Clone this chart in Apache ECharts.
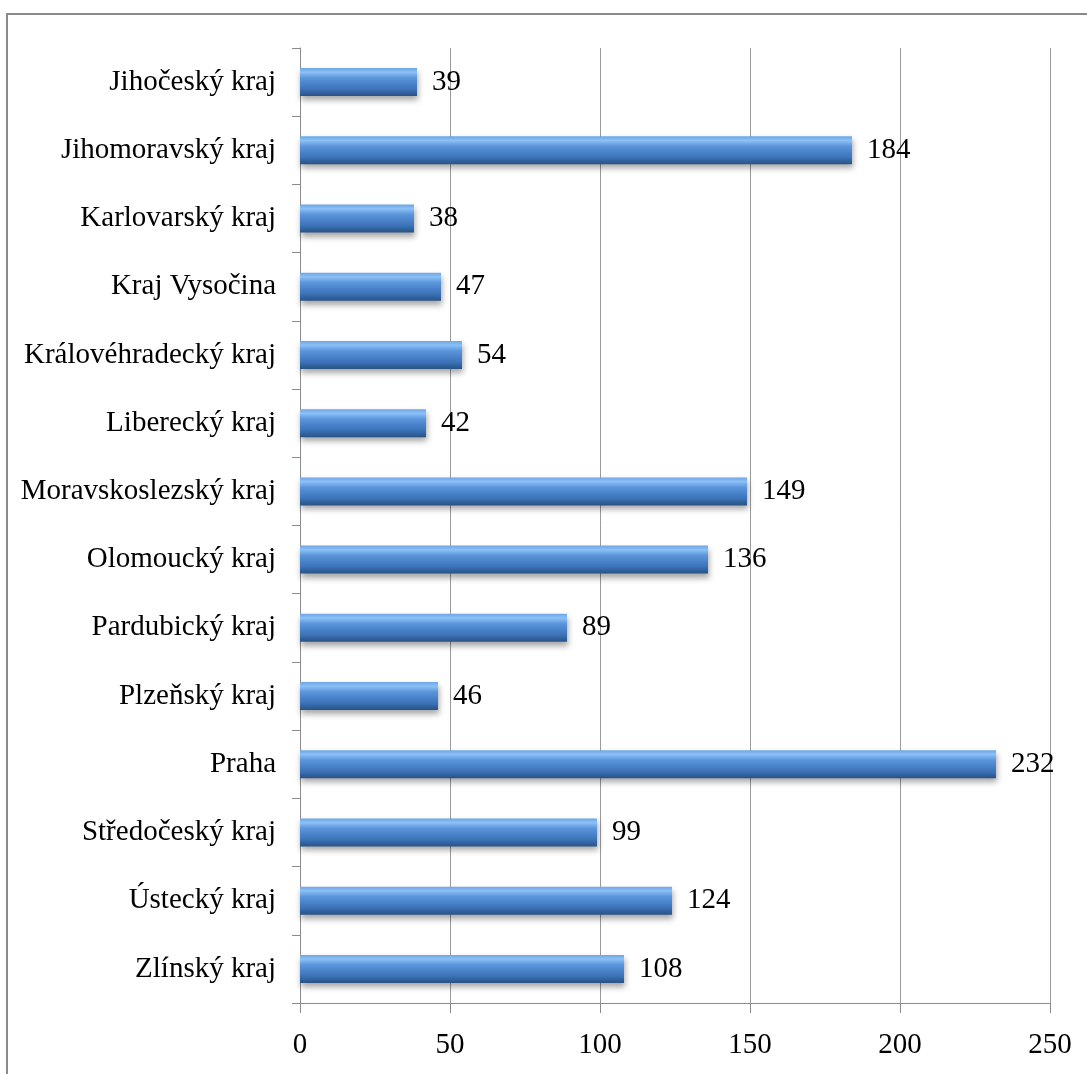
<!DOCTYPE html>
<html><head><meta charset="utf-8">
<script src="https://cdn.jsdelivr.net/npm/echarts@6/dist/echarts.min.js"></script>
<style>html,body{margin:0;padding:0;background:#fff}#c{width:1087px;height:1074px}</style>
</head><body><div id="c"></div>
<script>
const categories = ["Jihočeský kraj","Jihomoravský kraj","Karlovarský kraj","Kraj Vysočina","Královéhradecký kraj","Liberecký kraj","Moravskoslezský kraj","Olomoucký kraj","Pardubický kraj","Plzeňský kraj","Praha","Středočeský kraj","Ústecký kraj","Zlínský kraj"];
const values = [39,184,38,47,54,42,149,136,89,46,232,99,124,108];
const xTicks = [0,50,100,150,200,250];

const font = "'Liberation Serif', 'Times New Roman', serif";
const chart = echarts.init(document.getElementById('c'), null, {renderer:'canvas'});
chart.setOption({
  animation:false,
  backgroundColor:'#fff',
  graphic:[{type:'rect',shape:{x:7,y:14,width:1200,height:1200},style:{fill:'none',stroke:'#8a8a8a',lineWidth:2},z:-1}],
  grid:{left:300,right:37,top:48,bottom:71,containLabel:false},
  xAxis:{type:'value',min:xTicks[0],max:xTicks[xTicks.length-1],interval:50,
    axisLine:{show:true,lineStyle:{color:'#8c8c8c',width:1}},
    axisTick:{show:true,length:10,lineStyle:{color:'#8c8c8c'}},
    splitLine:{show:true,lineStyle:{color:'#9a9a9a',width:1}},
    axisLabel:{color:'#000',fontFamily:font,fontSize:29,margin:28}},
  yAxis:{type:'category',data:categories,inverse:true,
    axisLine:{show:true,lineStyle:{color:'#8c8c8c',width:1}},
    axisTick:{show:true,length:8,lineStyle:{color:'#8c8c8c'}},
    axisLabel:{color:'#000',fontFamily:font,fontSize:29,margin:24}},
  series:[{type:'bar',data:values,barWidth:28,
    itemStyle:{
      color:new echarts.graphic.LinearGradient(0,0,0,1,[
        {offset:0,color:'#6ea5e4'},{offset:0.15,color:'#8cc1f6'},{offset:0.35,color:'#5b95dc'},
        {offset:0.75,color:'#3c73b9'},{offset:1,color:'#285283'}]),
      shadowColor:'rgba(0,0,0,0.35)',shadowBlur:6,shadowOffsetY:4,shadowOffsetX:1},
    label:{show:true,position:'right',distance:15,color:'#000',fontFamily:font,fontSize:29}
  }]
});
</script></body></html>
